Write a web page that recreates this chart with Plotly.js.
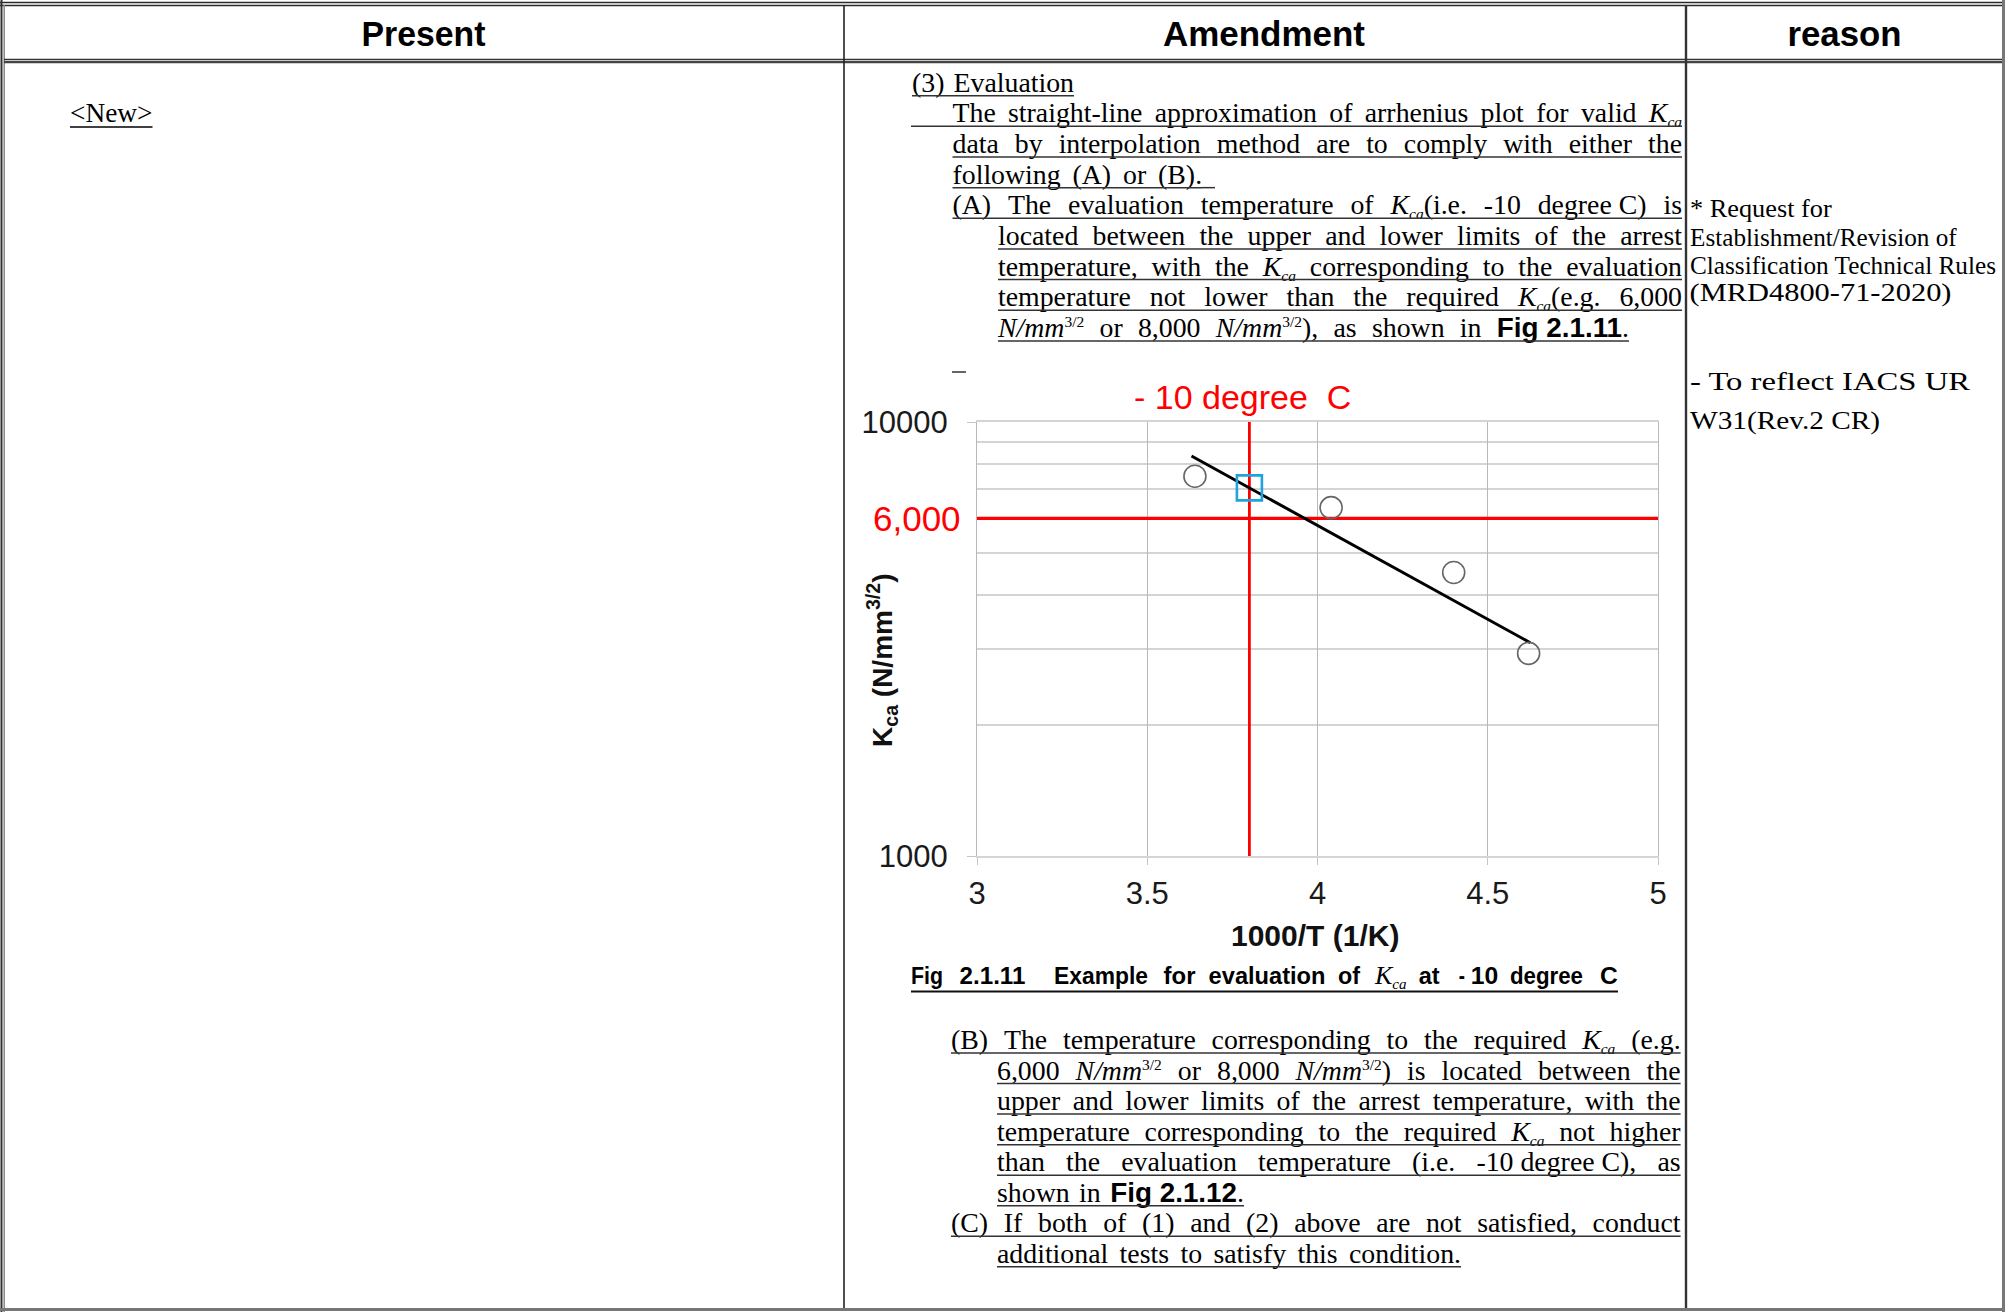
<!DOCTYPE html>
<html><head><meta charset="utf-8">
<script src="https://cdn.plot.ly/plotly-3.0.1.min.js"></script>
<style>
html,body{margin:0;padding:0;background:#fff;width:2005px;height:1312px;overflow:hidden}
#chart{position:absolute;left:846px;top:370px;width:830px;height:610px;z-index:1}
#ov{position:absolute;left:0;top:0;z-index:2;pointer-events:none}
</style></head><body>
<div id="chart"></div>
<svg id="ov" xmlns="http://www.w3.org/2000/svg" width="2005" height="1312"></svg>
<script>
// ---------------- chart data ----------------
const xTickVals = [3, 3.5, 4, 4.5, 5];
const xTickText = ['3', '3.5', '4', '4.5', '5'];
const yTickVals = [1000, 10000];
const yTickText = ['1000', '10000'];
const yMinorGrid = [2000, 3000, 4000, 5000, 6000, 7000, 8000, 9000];
const invTemp = [3.64, 4.04, 4.40, 4.62];          // 1000/T (1/K)
const kcaValues = [7500, 6350, 4500, 2930];        // Kca (N/mm^3/2)
const fitInvTemp = [3.63, 4.625];
const fitKca = [8350, 3100];
const evalInvTemp = [3.8];
const evalKca = [7050];
const requiredKca = 6000;
const evalLineX = 3.8;
const kcaRange = [1000, 10000];
const invTRange = [3, 5];

const SANS = "'Liberation Sans', Arial, sans-serif";
const SERIF = "'Liberation Serif', 'Times New Roman', serif";

const traces = [
  {x: invTRange, y: [requiredKca, requiredKca], mode: 'lines', line: {color: '#ff0000', width: 3.2}, cliponaxis: false},
  {x: [evalLineX, evalLineX], y: kcaRange, mode: 'lines', line: {color: '#ff0000', width: 2.8}, cliponaxis: false},
  {x: fitInvTemp, y: fitKca, mode: 'lines', line: {color: '#000000', width: 3}},
  {x: invTemp, y: kcaValues, mode: 'markers', marker: {symbol: 'circle-open', size: 22, color: '#666666', line: {color: '#666666', width: 1.6}}},
  {x: evalInvTemp, y: evalKca, mode: 'markers', marker: {symbol: 'square-open', size: 25, color: '#1ea3dc', line: {color: '#1ea3dc', width: 2.6}}}
];

const layout = {
  width: 830, height: 610,
  margin: {l: 131, r: 18, t: 52, b: 124},
  paper_bgcolor: 'rgba(0,0,0,0)', plot_bgcolor: '#ffffff',
  showlegend: false, hovermode: false,
  font: {family: SANS, color: '#1a1a1a'},
  xaxis: {
    range: invTRange, tickmode: 'array', tickvals: xTickVals, ticktext: xTickText,
    showgrid: true, gridcolor: '#b8b8b8', gridwidth: 1, zeroline: false,
    showline: true, linecolor: '#d4d4d4', linewidth: 2, mirror: true,
    ticks: 'outside', ticklen: 7, tickcolor: '#c4c4c4', tickwidth: 1,
    ticklabelstandoff: 2,
    tickfont: {family: SANS, size: 31, color: '#1a1a1a'}
  },
  yaxis: {
    type: 'log', range: [3, 4], tickmode: 'array', tickvals: yTickVals, ticktext: yTickText,
    showgrid: true, gridcolor: '#d4d4d4', gridwidth: 2, zeroline: false,
    minor: {tickmode: 'array', tickvals: yMinorGrid, showgrid: true, gridcolor: '#d4d4d4', gridwidth: 2, ticks: ''},
    showline: true, linecolor: '#b8b8b8', linewidth: 1, mirror: true,
    ticks: 'outside', ticklen: 9, tickcolor: '#c4c4c4', tickwidth: 1,
    ticklabelstandoff: 13,
    tickfont: {family: SANS, size: 31, color: '#1a1a1a'}
  },
  annotations: [
    {text: '-\u00a010 degree\u00a0\u00a0C', xref: 'paper', yref: 'paper', x: 0.3906, y: 1.058,
     xanchor: 'center', yanchor: 'middle', showarrow: false, font: {family: SANS, size: 34, color: '#ff0000'}},
    {text: '6,000', xref: 'paper', yref: 'y', x: -0.021, y: Math.log10(requiredKca),
     xanchor: 'right', yanchor: 'middle', showarrow: false, font: {family: SANS, size: 35, color: '#ff0000'}},
    {text: '<b>1000/T (1/K)</b>', xref: 'paper', yref: 'paper', x: 0.497, y: -0.184,
     xanchor: 'center', yanchor: 'middle', showarrow: false, font: {family: SANS, size: 30, color: '#111111'}},
    {text: '<b>K<sub>ca</sub> (N/mm<sup>3/2</sup>)</b>', xref: 'paper', yref: 'paper', x: -0.1395, y: 0.4516,
     xanchor: 'center', yanchor: 'middle', textangle: -90, showarrow: false, font: {family: SANS, size: 28, color: '#111111'}}
  ]
};

Plotly.newPlot('chart', traces, layout, {staticPlot: true, displayModeBar: false});

// ---------------- page (table + text) ----------------
const NS = 'http://www.w3.org/2000/svg';
const svg = document.getElementById('ov');
function el(tag, attrs, parent) {
  const e = document.createElementNS(NS, tag);
  for (const k in attrs) e.setAttribute(k, attrs[k]);
  (parent || svg).appendChild(e);
  return e;
}
function ln(x1, y1, x2, y2, stroke, w) { el('line', {x1, y1, x2, y2, stroke, 'stroke-width': w}); }

const TOK = {
  '{K}': '<tspan font-style="italic">K</tspan><tspan font-style="italic" font-size="15" baseline-shift="-5">ca</tspan>',
  '{N}': '<tspan font-style="italic">N/mm</tspan><tspan font-size="15" baseline-shift="10">3/2</tspan>',
  '{FIG11}': '<tspan font-family="Liberation Sans" font-weight="bold">Fig\u00a02.1.11</tspan>',
  '{FIG12}': '<tspan font-family="Liberation Sans" font-weight="bold">Fig\u00a02.1.12</tspan>',
  '{SP}': '\u00a0'
};
function expand(s) {
  for (const k in TOK) s = s.split(k).join(TOK[k]);
  return s;
}
function word(html, x, y, size, family, scale, weight) {
  const t = el('text', {x: x, y: y, 'font-size': size, 'font-family': family, fill: '#000', 'font-weight': weight || 'normal'});
  t.innerHTML = expand(html);
  const w = t.getComputedTextLength();
  if (scale && scale !== 1) {
    t.setAttribute('textLength', w * scale);
    t.setAttribute('lengthAdjust', 'spacingAndGlyphs');
  }
  return {t: t, w: w * (scale || 1)};
}
// justified line of words between x and x+w
function jline(str, x, y, w, ux1, size, family, scale, weight) {
  const words = str.split(' ');
  const parts = words.map(s => word(s, 0, y, size, family, scale, weight));
  const sum = parts.reduce((a, p) => a + p.w, 0);
  let gap = parts.length > 1 ? (w - sum) / (parts.length - 1) : 0;
  if (gap < 3) gap = 3;
  let cx = x;
  parts.forEach(p => { p.t.setAttribute('x', cx); cx += p.w + gap; });
  if (ux1 !== null) ln(ux1, y + 4, x + w, y + 4, '#333', 1.5);
}
function fitText(str, x, y, w, size, family, weight, anchor) {
  const t = el('text', {x: x, y: y, 'font-size': size, 'font-family': family, fill: '#000',
    'font-weight': weight || 'normal', 'text-anchor': anchor || 'start', textLength: w, lengthAdjust: 'spacingAndGlyphs'});
  t.textContent = str;
  return t;
}

function drawPage() {
  // table borders
  ln(0, 2.5, 2005, 2.5, '#2a2a2a', 1.3);
  ln(0, 5.5, 2005, 5.5, '#2a2a2a', 1.3);
  ln(1.5, 0, 1.5, 1312, '#333', 2);
  ln(4.2, 5, 4.2, 1312, '#888', 1.5);
  ln(4, 59.5, 2005, 59.5, '#333', 1.3);
  ln(4, 62.2, 2005, 62.2, '#444', 2.2);
  ln(844, 5, 844, 1309, '#222', 1.6);
  ln(1686, 5, 1686, 1309, '#333', 2.4);
  ln(2003.5, 0, 2003.5, 1312, '#777', 3);
  ln(0, 1309.5, 2005, 1309.5, '#777', 3);

  // header
  fitText('Present', 423.5, 46, 124, 35, SANS, 'bold', 'middle');
  fitText('Amendment', 1264, 46, 202, 35, SANS, 'bold', 'middle');
  fitText('reason', 1844.5, 46, 114, 35, SANS, 'bold', 'middle');

  // present column
  fitText('<New>', 70, 122, 82.5, 27, SERIF);
  ln(70, 127, 152.5, 127, '#000', 1.5);

  // reason column
  fitText('* Request for', 1690, 216.5, 141.7, 25, SERIF);
  fitText('Establishment/Revision of', 1690, 245.5, 266.7, 25, SERIF);
  fitText('Classification Technical Rules', 1690, 274, 306, 25, SERIF);
  fitText('(MRD4800-71-2020)', 1689.5, 301, 262, 25, SERIF);
  fitText('- To reflect IACS UR', 1690, 390, 280, 25, SERIF);
  fitText('W31(Rev.2 CR)', 1690, 429, 190, 25, SERIF);

  // amendment text
  const FS = 27, SC = 1.03;
  const b0 = 91.7, d = 30.65;
  const R = 1682;
  jline('(3) Evaluation', 912, b0, 162, 912, FS, SERIF, SC);
  jline('The straight-line approximation of arrhenius plot for valid {K}', 952.5, b0 + d, R - 952.5, 911, FS, SERIF, SC);
  jline('data by interpolation method are to comply with either the', 952.5, b0 + 2 * d, R - 952.5, 952.5, FS, SERIF, SC);
  jline('following (A) or (B).', 952.5, b0 + 3 * d, 249.6, 952.5, FS, SERIF, SC);
  ln(1202, b0 + 3 * d + 4, 1215, b0 + 3 * d + 4, '#333', 1.5);
  jline('(A) The evaluation temperature of {K}(i.e. -10 degree{SP}C) is', 952.5, b0 + 4 * d, R - 952.5, 952.5, FS, SERIF, SC);
  jline('located between the upper and lower limits of the arrest', 998, b0 + 5 * d, R - 998, 998, FS, SERIF, SC);
  jline('temperature, with the {K} corresponding to the evaluation', 998, b0 + 6 * d, R - 998, 998, FS, SERIF, SC);
  jline('temperature not lower than the required {K}(e.g. 6,000', 998, b0 + 7 * d, R - 998, 998, FS, SERIF, SC);
  jline('{N} or 8,000 {N}), as shown in {FIG11}.', 998, b0 + 8 * d, 631, 998, FS, SERIF, SC);
  ln(952, 372, 966, 372, '#333', 1.5);

  // caption
  const cap = [['Fig', 911, 943], ['2.1.11', 959.6, 1025.4], ['Example', 1054, 1148], ['for', 1163.6, 1195.5],
    ['evaluation', 1208.6, 1325.5], ['of', 1338, 1360], ['at', 1418.7, 1439.6], ['-', 1458.8, 1465],
    ['10', 1470.8, 1498.3], ['degree', 1510, 1583], ['C', 1600, 1617.8]];
  cap.forEach(c => fitText(c[0], c[1], 984, c[2] - c[1], 23, SANS, 'bold'));
  const kc = el('text', {x: 1375, y: 984, 'font-size': 26, 'font-family': SERIF, fill: '#000'});
  kc.innerHTML = TOK['{K}'];
  ln(911, 991.5, 1618, 991.5, '#111', 2);

  // (B), (C)
  const c0 = 1049, e = 30.55, R2 = 1680.6;
  jline('(B) The temperature corresponding to the required {K} (e.g.', 951, c0, R2 - 951, 951, FS, SERIF, SC);
  jline('6,000 {N} or 8,000 {N}) is located between the', 997, c0 + e, R2 - 997, 997, FS, SERIF, SC);
  jline('upper and lower limits of the arrest temperature, with the', 997, c0 + 2 * e, R2 - 997, 997, FS, SERIF, SC);
  jline('temperature corresponding to the required {K} not higher', 997, c0 + 3 * e, R2 - 997, 997, FS, SERIF, SC);
  jline('than the evaluation temperature (i.e. -10{SP}degree{SP}C), as', 997, c0 + 4 * e, R2 - 997, 997, FS, SERIF, SC);
  jline('shown in {FIG12}.', 997, c0 + 5 * e, 247, 997, FS, SERIF, SC);
  jline('(C) If both of (1) and (2) above are not satisfied, conduct', 951, c0 + 6 * e, R2 - 951, 951, FS, SERIF, SC);
  jline('additional tests to satisfy this condition.', 997, c0 + 7 * e, 464, 997, FS, SERIF, SC);
}

if (document.fonts && document.fonts.ready) {
  document.fonts.ready.then(drawPage);
} else {
  drawPage();
}
</script>
</body></html>
